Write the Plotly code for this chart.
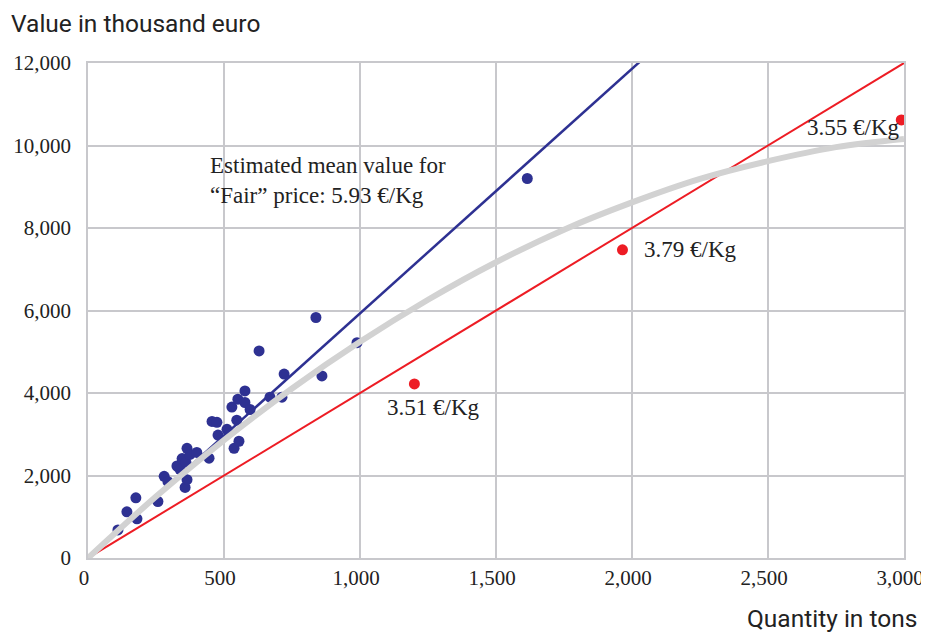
import plotly.graph_objects as go

# Blue points: quantity (tons) and value (thousand euro)
blue_qty = [110, 143, 176, 180, 257, 280, 294, 327, 338, 346, 357, 360, 364, 364, 375,
            400, 445, 456, 474, 478, 511, 529, 537, 547, 551, 555, 577, 577, 596, 629,
            669, 713, 721, 838, 860, 989, 1615]
blue_val = [680, 1120, 1460, 950, 1370, 1980, 1850, 2230, 2150, 2410, 1710, 2320, 2660, 1900, 2510,
            2560, 2420, 3310, 3290, 2980, 3120, 3660, 2660, 3340, 3850, 2830, 4050, 3770, 3600, 5020,
            3900, 3900, 4460, 5830, 4415, 5220, 9200]

# Red points
red_qty = [1200, 1965, 2990]
red_val = [4220, 7470, 10620]
red_labels = ["3.51 €/Kg", "3.79 €/Kg", "3.55 €/Kg"]

# Reference lines (price per kg)
fair_price = 5.93
low_price = 4.0
line_x = [0, 3000]

# Grey trend curve
trend_qty = [0, 250, 500, 750, 1000, 1250, 1500, 1750, 2000, 2250, 2500, 2750, 3000]
trend_val = [0, 1490, 2860, 4110, 5240, 6260, 7170, 7960, 8620, 9190, 9620, 9960, 10160]

x_ticks = [0, 500, 1000, 1500, 2000, 2500, 3000]
x_tick_text = ["0", "500", "1,000", "1,500", "2,000", "2,500", "3,000"]
y_ticks = [0, 2000, 4000, 6000, 8000, 10000, 12000]
y_tick_text = ["0", "2,000", "4,000", "6,000", "8,000", "10,000", "12,000"]

BLUE = "#2e3192"
RED = "#ed1c24"
GREY = "#d2d2d2"
GRID = "#c8c8cc"
TXT = "#222222"

fig = go.Figure()
fig.add_trace(go.Scatter(x=line_x, y=[v * low_price for v in line_x], mode="lines",
                         line=dict(color=RED, width=2), hoverinfo="skip"))
fig.add_trace(go.Scatter(x=line_x, y=[v * fair_price for v in line_x], mode="lines",
                         line=dict(color=BLUE, width=2.5), hoverinfo="skip"))
fig.add_trace(go.Scatter(x=blue_qty, y=blue_val, mode="markers",
                         marker=dict(color=BLUE, size=11)))
fig.add_trace(go.Scatter(x=trend_qty, y=trend_val, mode="lines",
                         line=dict(color=GREY, width=6, shape="spline"), hoverinfo="skip"))
fig.add_trace(go.Scatter(x=red_qty, y=red_val, mode="markers",
                         marker=dict(color=RED, size=11)))

serif = "Liberation Serif, Times New Roman, serif"
sans = "Roboto, Open Sans, sans-serif"

fig.update_layout(
    width=921, height=627,
    margin=dict(l=80, r=25, t=55, b=77),
    paper_bgcolor="white", plot_bgcolor="white",
    showlegend=False,
    font=dict(family=serif, size=21, color=TXT),
    xaxis=dict(range=[0, 3000], tickvals=x_ticks, ticktext=x_tick_text,
               showgrid=True, gridcolor=GRID, gridwidth=1.5, zeroline=False,
               showline=True, linecolor=GRID, linewidth=1.5, mirror=True,
               ticks="", ticklabelstandoff=0, ticklabelshift=-4,
               automargin=False, ticklabeloverflow="allow",
               tickfont=dict(family=serif, size=21, color=TXT)),
    yaxis=dict(range=[0, 12000], tickvals=y_ticks, ticktext=y_tick_text,
               showgrid=True, gridcolor=GRID, gridwidth=1.5, zeroline=False,
               showline=True, linecolor=GRID, linewidth=1.5, mirror=True,
               ticks="", ticklabelstandoff=11, automargin=False, ticklabeloverflow="allow",
               tickfont=dict(family=serif, size=21, color=TXT)),
)

fig.add_annotation(xref="paper", yref="paper", x=-78/816, y=1 + 39/495,
                   xanchor="left", yanchor="middle", showarrow=False, borderpad=0,
                   text="Value in thousand euro",
                   font=dict(family=sans, size=24.5, color=TXT))
fig.add_annotation(xref="paper", yref="paper", x=1 + 14/816, y=-60/495,
                   xanchor="right", yanchor="middle", showarrow=False, borderpad=0,
                   text="Quantity in tons",
                   font=dict(family=sans, size=24.5, color=TXT))
fig.add_annotation(x=441, y=9860, xanchor="left", yanchor="top", showarrow=False, align="left",
                   text="Estimated mean value for<br>“Fair” price: 5.93 €/Kg",
                   font=dict(family=serif, size=23, color=TXT))
label_pos = [(1092, 3650), (2035, 7490), (2635, 10440)]
for (lx, ly), t in zip(label_pos, red_labels):
    fig.add_annotation(x=lx, y=ly, xanchor="left", yanchor="middle", showarrow=False,
                       text=t, font=dict(family=serif, size=23, color=TXT))

fig.write_html("out.html")
